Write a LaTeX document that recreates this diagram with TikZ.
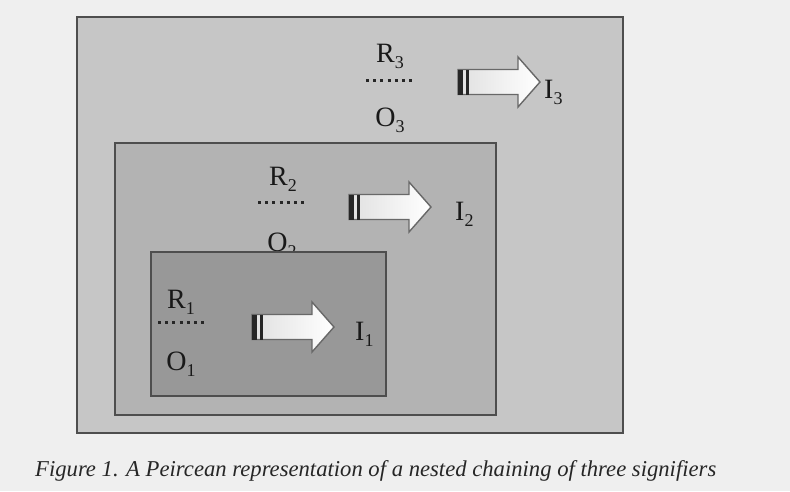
\documentclass[tikz,border=0pt]{standalone}
\usepackage{fontspec}
\setmainfont{Liberation Serif}
\definecolor{page}{HTML}{EFEFEF}
\definecolor{boxthree}{HTML}{C6C6C6}
\definecolor{boxtwo}{HTML}{B3B3B3}
\definecolor{boxone}{HTML}{989898}
\definecolor{edge}{HTML}{4E4E4E}
\definecolor{arrowedge}{HTML}{686868}
\newcommand\subs[1]{\raisebox{-6pt}{\fontsize{18}{18}\selectfont #1}}
\tikzset{
  boxframe/.style={draw=edge, line width=1.8pt, inner sep=0pt, outer sep=0pt, anchor=north west},
  lbl/.style={font=\fontsize{28}{28}\selectfont, inner sep=0pt, anchor=base, text=black!90},
  ilbl/.style={lbl, anchor=base west},
  dotline/.style={line width=3pt, dash pattern=on 3pt off 4.2pt, draw=black!85},
  stripedarrow/.pic={
    \path[left color=white!88!black, right color=white, draw=arrowedge, line width=1.4pt]
      (0,-12.5) -- (60,-12.5) -- (60,-25) -- (82,0) -- (60,25) -- (60,12.5) -- (0,12.5) -- cycle;
    \fill[black!85] (0,-12.5) rectangle (5,12.5);
    \fill[black!85] (7.5,-12.5) rectangle (10.5,12.5);
    \coordinate (-tip) at (82,0);
  }
}
\begin{document}
\begin{tikzpicture}[x=1pt,y=-1pt]
\useasboundingbox (0,0) rectangle (790,491);
\fill[page] (0,0) rectangle (790,491);
% nested boxes
\node[boxframe, fill=boxthree, minimum width=546pt, minimum height=416pt] (outer) at (77,17) {};
\node[boxframe, fill=boxtwo, minimum width=381pt, minimum height=272pt] (middle) at (115,143) {};
% level 3
\node[lbl] (r3) at (390,62) {R\subs{3}};
\node[lbl] (o3) at (390,126) {O\subs{3}};
\coordinate (d3a) at (366,80);
\coordinate (d3b) at (416,80);
\draw[dotline] (d3a) -- (d3b);
\pic (a3) at (458,82) {stripedarrow};
\node[ilbl] (i3) at (544,98) {I\subs{3}};
% level 2
\node[lbl] (r2) at (283,185) {R\subs{2}};
\node[lbl] (o2) at (282,251) {O\subs{2}};
\coordinate (d2a) at (258,202);
\coordinate (d2b) at (308,202);
\draw[dotline] (d2a) -- (d2b);
\pic (a2) at (349,207) {stripedarrow};
\node[ilbl] (i2) at (455,220) {I\subs{2}};
% inner box drawn over the foot of O2, as in the original
\node[boxframe, fill=boxone, minimum width=235pt, minimum height=144pt] (inner) at (151,252) {};
% level 1
\node[lbl] (r1) at (181,308) {R\subs{1}};
\node[lbl] (o1) at (181,370) {O\subs{1}};
\coordinate (d1a) at (158,322);
\coordinate (d1b) at (208,322);
\draw[dotline] (d1a) -- (d1b);
\pic (a1) at (252,327) {stripedarrow};
\node[ilbl] (i1) at (355,340) {I\subs{1}};
% caption
\node[anchor=base west, inner sep=0pt, text=black!85] (caption) at (35,476)
  {\resizebox{681pt}{!}{\itshape Figure 1. A Peircean representation of a nested chaining of three signifiers}};
\end{tikzpicture}
\end{document}
